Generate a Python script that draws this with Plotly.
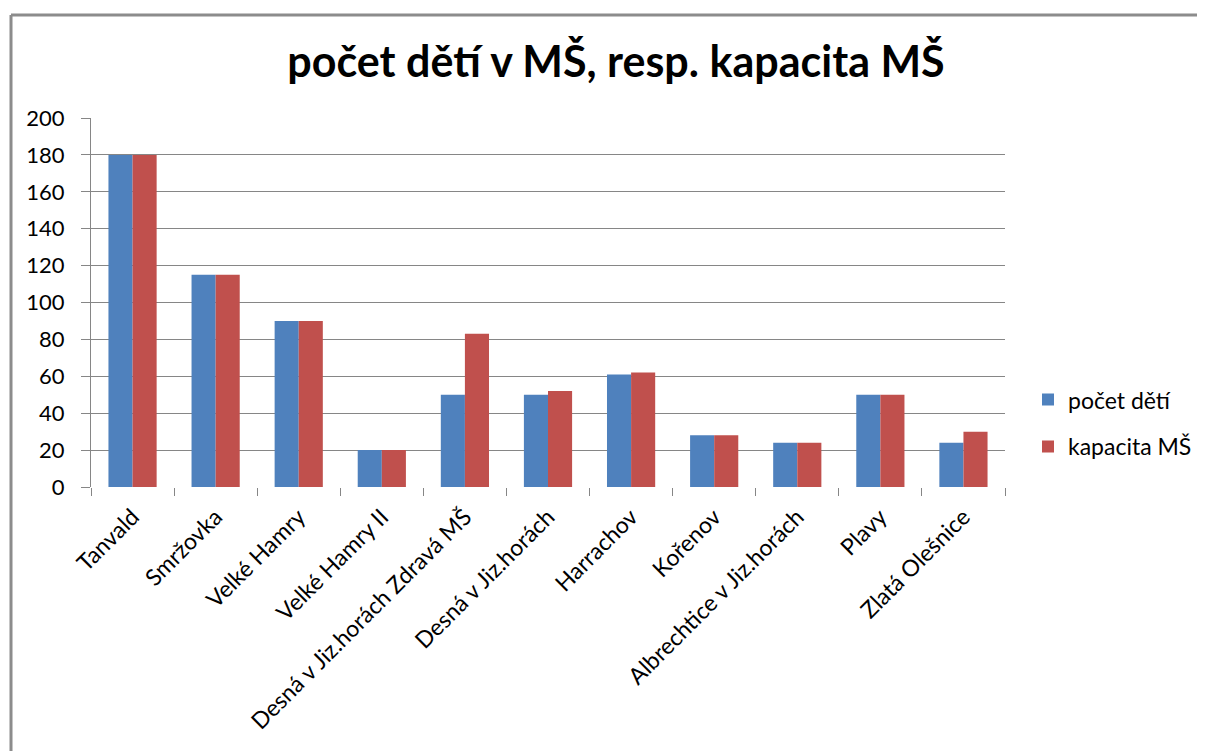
import plotly.graph_objects as go

categories = ["Tanvald", "Smržovka", "Velké Hamry", "Velké Hamry II",
              "Desná v Jiz.horách Zdravá MŠ", "Desná v Jiz.horách", "Harrachov",
              "Kořenov", "Albrechtice v Jiz.horách", "Plavy", "Zlatá Olešnice"]
pocet_deti = [180, 115, 90, 20, 50, 50, 61, 28, 24, 50, 24]
kapacita_ms = [180, 115, 90, 20, 83, 52, 62, 28, 24, 50, 30]
y_ticks = [0, 20, 40, 60, 80, 100, 120, 140, 160, 180, 200]

FONT = "Lato, Open Sans, sans-serif"
GRID = "#868686"

W, H = 1197, 743
L, T, B = 83, 110, 264
PW = W - L  # paper width (r = 0)

def px(xpage):
    return (xpage - 8 - L) / PW

fig = go.Figure()
fig.add_trace(go.Bar(x=categories, y=pocet_deti, name="počet dětí",
                     marker=dict(color="#4F81BD", line=dict(width=0)),
                     legendgroup="a"))
fig.add_trace(go.Bar(x=categories, y=kapacita_ms, name="kapacita MŠ",
                     marker=dict(color="#C0504D", line=dict(width=0)),
                     legendgroup="b"))

fig.update_layout(
    width=W, height=H,
    margin=dict(l=L, r=0, t=T, b=B, pad=0),
    paper_bgcolor="white", plot_bgcolor="white",
    barmode="group", bargap=0.42, bargroupgap=0,
    font=dict(family=FONT, color="black", size=22),
    title=dict(text="<b>počet dětí v MŠ, resp. kapacita MŠ</b>",
               x=px(616), xref="paper", xanchor="center",
               y=1 - 54 / H, yanchor="middle",
               font=dict(family=FONT, size=43, color="black")),
    legend=dict(x=px(1028), y=0.173, xanchor="left", yanchor="middle",
                font=dict(family=FONT, size=23), tracegroupgap=14,
                traceorder="grouped", bgcolor="rgba(0,0,0,0)"),
    showlegend=True,
)
fig.update_xaxes(type="category", domain=[0, 914 / PW], tickangle=-45,
                 showgrid=False, showline=False,
                 ticks="outside", tickson="boundaries", ticklen=8, tickwidth=1,
                 tickcolor=GRID, tickfont=dict(family=FONT, size=23, color="black"),
                 ticklabelstandoff=11, zeroline=False)
fig.update_yaxes(range=[0, 200], tickvals=y_ticks, showgrid=True, gridcolor=GRID,
                 gridwidth=1, showline=True, linecolor=GRID, linewidth=1,
                 ticks="outside", ticklen=9, tickcolor=GRID, zeroline=False,
                 ticklabelstandoff=12,
                 tickfont=dict(family=FONT, size=22, color="black"))

# outer chart border (left and top edges visible)
fig.add_shape(type="line", xref="paper", yref="paper",
              x0=px(11), x1=px(11), y0=1.279, y1=-0.8,
              line=dict(color="#8c8c8c", width=3))
fig.add_shape(type="line", xref="paper", yref="paper",
              x0=px(11), x1=1.2, y0=1.279, y1=1.279,
              line=dict(color="#8c8c8c", width=3))

fig.write_html("out.html")
